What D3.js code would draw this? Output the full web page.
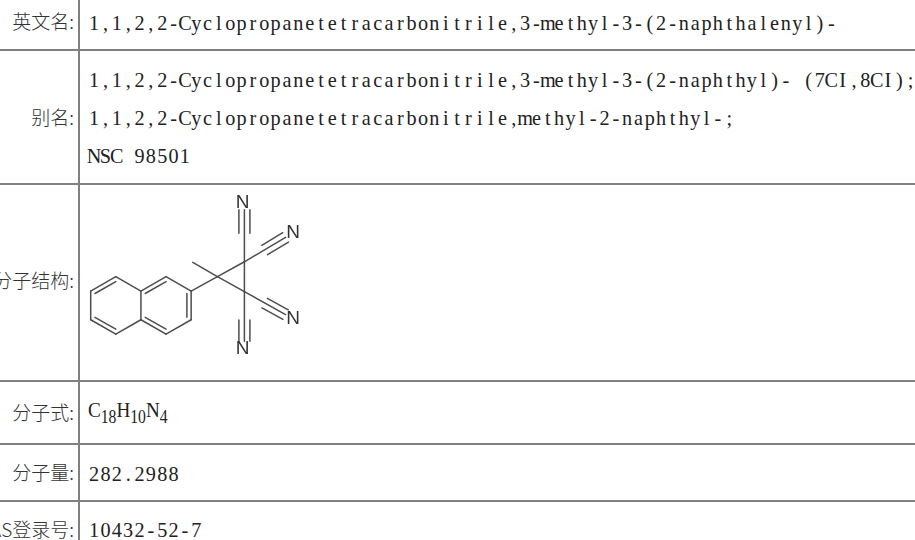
<!DOCTYPE html>
<html>
<head>
<meta charset="utf-8">
<script src="https://cdn.jsdelivr.net/npm/d3@7"></script>
<style>
  html, body { margin: 0; padding: 0; background: #fff; overflow: hidden; }
  .label { font-family: "Noto Sans CJK SC"; font-size: 19px; font-weight: 300; fill: #333; text-anchor: end; }
  .value { font-family: "Liberation Serif", serif; font-size: 22px; fill: #222; }
  .rule { stroke: #808080; stroke-width: 2; }
  .bond { stroke: #4d4d4d; stroke-width: 1.5; stroke-linecap: round; }
  .atom { font-family: "Liberation Sans"; font-size: 19px; fill: #333; text-anchor: middle; }
</style>
</head>
<body>
<div id="wrapper"></div>
<script>
// table rows, top to bottom
const rowLabels = ["英文名:", "别名:", "分子结构:", "分子式:", "分子量:", "CAS登录号:"]
const rowHeights = [50, 134, 197, 63, 57, 39]
const labelBaselines = [29, 125, 288, 420, 480, 537]
const valueLines = [
  ["1,1,2,2-Cyclopropanetetracarbonitrile,3-methyl-3-(2-naphthalenyl)-"],
  ["1,1,2,2-Cyclopropanetetracarbonitrile,3-methyl-3-(2-naphthyl)- (7CI,8CI);",
   "1,1,2,2-Cyclopropanetetracarbonitrile,methyl-2-naphthyl-;",
   "NSC 98501"],
  [],
  [],
  ["282.2988"],
  ["10432-52-7"],
]
const valueBaselines = [[30], [87, 125, 163], [], [], [481], [537]]
const formulaParts = [["C", false], ["18", true], ["H", false], ["10", true], ["N", false], ["4", true]]

// molecule, in bond lengths
const atoms = {
  a: [0, 0.5], b: [0.866, 0], c: [1.732, 0.5], d: [2.598, 0], e: [3.464, 0.5],
  f: [3.464, 1.5], g: [2.598, 2], h: [1.732, 1.5], i: [0.866, 2], j: [0, 1.5],
  q: [4.37, 0], m: [3.52, -0.5], t: [5.3, -0.52], u: [5.3, 0.52],
}
const singleBonds = ["ab", "bc", "cd", "de", "ef", "fg", "gh", "hi", "ij", "ja", "ch", "eq", "qm", "qt", "qu", "tu"]
const innerBonds = [["ab", 0], ["ij", 0], ["cd", 1], ["ef", 1], ["gh", 1]]
const ringCentres = [[0.866, 1], [2.598, 1]]
// cyano: from atom, triple bond start, triple bond end, N label position
const cyanos = [
  ["t", [5.3, -1.51], [5.3, -2.33], [5.24, -2.6]],
  ["t", [6.0, -0.93], [6.72, -1.37], [6.98, -1.55]],
  ["u", [6.0, 0.92], [6.72, 1.32], [6.98, 1.45]],
  ["u", [5.3, 1.51], [5.3, 2.25], [5.24, 2.48]],
]

const width = 915
const height = 540
const svg = d3.select("#wrapper").append("svg")
  .attr("width", width)
  .attr("height", height)
  .style("display", "block")

// rows
const rowEdges = d3.cumsum(rowHeights)
const yScale = d3.scaleLinear().domain([0, height]).range([0, height])
const dividerX = 79

svg.selectAll(".rule-h")
  .data(rowEdges.slice(0, -1))
  .enter().append("line")
    .attr("class", "rule")
    .attr("x1", 0)
    .attr("x2", width)
    .attr("y1", d => yScale(d))
    .attr("y2", d => yScale(d))

svg.append("line")
  .attr("class", "rule")
  .attr("x1", dividerX)
  .attr("x2", dividerX)
  .attr("y1", 0)
  .attr("y2", height)

svg.selectAll(".label")
  .data(rowLabels)
  .enter().append("text")
    .attr("class", "label")
    .attr("x", dividerX - 5)
    .attr("y", (d, i) => labelBaselines[i])
    .text(d => d)

// the original face is fixed pitch, so every glyph gets its own cell
const squeeze = 0.92
const cell = 11.34 / squeeze
const ctx = document.createElement("canvas").getContext("2d")
const glyphXs = (line, size) => {
  ctx.font = `${size}px "Liberation Serif"`
  return Array.from(line, (ch, i) => (i * cell + (cell - ctx.measureText(ch).width) / 2).toFixed(2)).join(" ")
}

valueLines.forEach((lines, row) => {
  lines.forEach((line, i) => {
    svg.append("text")
      .attr("class", "value")
      .attr("transform", `translate(88.5,${valueBaselines[row][i]}) scale(${squeeze},1)`)
      .attr("xml:space", "preserve")
      .attr("x", glyphXs(line, 22))
      .text(line)
  })
})

// formula with subscripts
const formula = svg.append("text")
  .attr("class", "value")
  .attr("transform", "translate(88,417) scale(0.87,1)")
formula.selectAll("tspan")
  .data(formulaParts)
  .enter().append("tspan")
    .attr("dy", (d, i) => i == 0 ? 0 : (d[1] ? 6 : -6))
    .style("font-size", d => d[1] ? "18px" : null)
    .text(d => d[0])

// molecule
const molX = d3.scaleLinear().domain([0, 1]).range([90.7, 119.7])
const molY = d3.scaleLinear().domain([0, 1]).range([276.7, 305.4])
const mol = svg.append("g")
  .style("filter", "blur(0.45px)")

const addBond = (p, q) => mol.append("line")
  .attr("class", "bond")
  .attr("x1", molX(p[0])).attr("y1", molY(p[1]))
  .attr("x2", molX(q[0])).attr("y2", molY(q[1]))

singleBonds.forEach(b => addBond(atoms[b[0]], atoms[b[1]]))

innerBonds.forEach(([b, ring]) => {
  const c = ringCentres[ring]
  const toCentre = p => [p[0] + (c[0] - p[0]) * 0.17, p[1] + (c[1] - p[1]) * 0.17]
  addBond(toCentre(atoms[b[0]]), toCentre(atoms[b[1]]))
})

const sideOffset = 0.19
cyanos.forEach(([from, start, end, label]) => {
  addBond(atoms[from], end)
  const dx = end[0] - start[0]
  const dy = end[1] - start[1]
  const len = Math.hypot(dx, dy)
  const nx = -dy / len * sideOffset
  const ny = dx / len * sideOffset
  addBond([start[0] + nx, start[1] + ny], [end[0] + nx, end[1] + ny])
  addBond([start[0] - nx, start[1] - ny], [end[0] - nx, end[1] - ny])
  mol.append("text")
    .attr("class", "atom")
    .attr("x", molX(label[0]))
    .attr("y", molY(label[1]) + 6)
    .text("N")
})
</script>
</body>
</html>
